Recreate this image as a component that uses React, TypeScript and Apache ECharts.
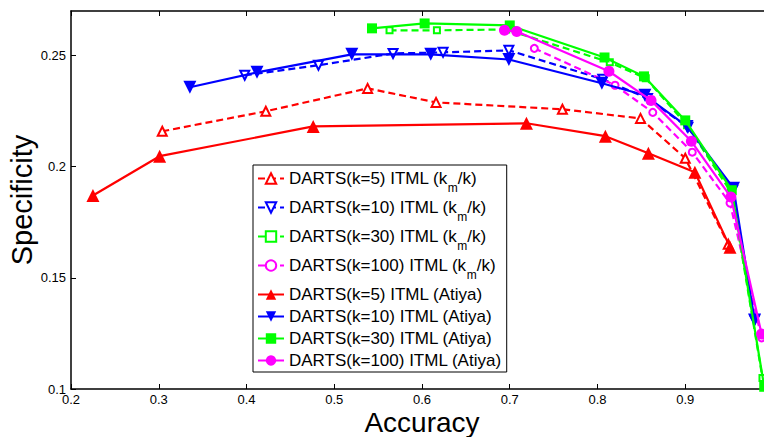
import React, { useEffect, useRef } from 'react';
import * as echarts from 'echarts';

const FONT = '"Liberation Sans", Arial, Helvetica, sans-serif';

const seriesNames = [
  'DARTS(k=5) ITML (k_m/k)',
  'DARTS(k=10) ITML (k_m/k)',
  'DARTS(k=30) ITML (k_m/k)',
  'DARTS(k=100) ITML (k_m/k)',
  'DARTS(k=5) ITML (Atiya)',
  'DARTS(k=10) ITML (Atiya)',
  'DARTS(k=30) ITML (Atiya)',
  'DARTS(k=100) ITML (Atiya)',
];

// [accuracy, specificity]
const k5Km = [[0.304, 0.2159], [0.422, 0.2249], [0.538, 0.2352], [0.616, 0.2289], [0.760, 0.2258], [0.849, 0.2217], [0.900, 0.2038], [0.949, 0.1651]];
const k10Km = [[0.398, 0.2411], [0.482, 0.2456], [0.567, 0.2509], [0.624, 0.2514], [0.699, 0.2523], [0.806, 0.2393], [0.857, 0.2307], [0.903, 0.2177], [0.954, 0.1894], [0.979, 0.131]];
const k30Km = [[0.563, 0.2613], [0.617, 0.2613], [0.696, 0.2617], [0.814, 0.2469], [0.855, 0.2397], [0.902, 0.2186], [0.953, 0.188], [0.988, 0.105]];
const k100Km = [[0.728, 0.2532], [0.820, 0.2366], [0.863, 0.2244], [0.908, 0.2065], [0.951, 0.1836], [0.987, 0.123]];
const k5Atiya = [[0.225, 0.187], [0.301, 0.2047], [0.476, 0.2181], [0.719, 0.2195], [0.809, 0.2137], [0.858, 0.206], [0.911, 0.1975], [0.951, 0.1638]];
const k10Atiya = [[0.3355, 0.2357], [0.412, 0.2424], [0.520, 0.2505], [0.610, 0.2505], [0.699, 0.2482], [0.805, 0.2375], [0.854, 0.2321], [0.902, 0.2181], [0.955, 0.1903], [0.979, 0.131]];
const k30Atiya = [[0.543, 0.2622], [0.603, 0.2644], [0.700, 0.2635], [0.808, 0.2491], [0.853, 0.2406], [0.900, 0.2208], [0.953, 0.1894], [0.99, 0.101]];
const k100Atiya = [[0.694, 0.2613], [0.708, 0.2608], [0.813, 0.2429], [0.861, 0.2298], [0.907, 0.2114], [0.952, 0.1863], [0.987, 0.1247]];

const seriesData = [k5Km, k10Km, k30Km, k100Km, k5Atiya, k10Atiya, k30Atiya, k100Atiya];
const colors = ['#ff0000', '#0000ff', '#00ff00', '#ff00ff', '#ff0000', '#0000ff', '#00ff00', '#ff00ff'];
const symbols = ['emptyTriangle', 'emptyTriangle', 'emptyRect', 'emptyCircle', 'triangle', 'triangle', 'rect', 'circle'];
const symbolSizes = [9, 9, 6, 7, 13, 13, 10, 11];
const rotations = [0, 180, 0, 0, 0, 180, 0, 0];
const dashed = [true, true, true, true, false, false, false, false];

export default function App() {
  const ref = useRef<HTMLDivElement>(null);
  useEffect(() => {
    if (!ref.current) return;
    const chart = echarts.init(ref.current, undefined, { renderer: 'svg' });
    const axisLine = { show: true, onZero: false, lineStyle: { color: '#000', width: 1.5 } };
    const axisTick = { show: true, inside: true, length: 5, lineStyle: { color: '#000', width: 1 } };
    chart.setOption({
      animation: false,
      backgroundColor: '#fff',
      grid: { left: 71, top: 11, width: 702, height: 378, containLabel: false, outerBoundsMode: 'none' },
      legend: {
        orient: 'vertical',
        left: 253,
        top: 165,
        backgroundColor: '#fff',
        borderColor: '#000',
        borderWidth: 1,
        borderRadius: 0,
        padding: [5, 5, 3, 4],
        itemGap: 5,
        itemWidth: 26,
        itemHeight: 13,
        data: seriesNames,
        formatter: (name: string) => {
          const m = name.match(/^(.*\(k)_m(\/k\))$/);
          if (m) return `{t|${m[1]}}{s|m}{t|${m[2]}}`;
          return `{t|${name}}`;
        },
        textStyle: {
          fontSize: 17,
          fontFamily: FONT,
          color: '#000',
          rich: {
            t: { fontSize: 17, fontFamily: FONT, color: '#000' },
            s: { fontSize: 12, fontFamily: FONT, color: '#000', padding: [19, 0, 0, 0] },
          },
        },
      },
      xAxis: [
        {
          type: 'value', min: 0.2, max: 1.0, interval: 0.1, position: 'bottom',
          axisLine, axisTick,
          splitLine: { show: false },
          axisLabel: {
            fontSize: 13, fontFamily: FONT, color: '#000', margin: 4, showMaxLabel: false,
            formatter: (v: number) => String(Math.round(v * 100) / 100),
          },
          name: 'Accuracy', nameLocation: 'middle', nameGap: 19, nameMoveOverlap: false,
          nameTextStyle: { fontSize: 28, fontFamily: FONT, color: '#000', verticalAlign: 'top' },
        },
        {
          type: 'value', min: 0.2, max: 1.0, interval: 0.1, position: 'top',
          axisLine, axisTick, splitLine: { show: false }, axisLabel: { show: false },
        },
      ],
      yAxis: [
        {
          type: 'value', min: 0.1, max: 0.27, interval: 0.05, position: 'left',
          axisLine, axisTick, splitLine: { show: false },
          axisLabel: {
            fontSize: 13, fontFamily: FONT, color: '#000', margin: 5, showMaxLabel: false,
            formatter: (v: number) => String(Math.round(v * 100) / 100),
          },
          name: 'Specificity', nameLocation: 'middle', nameGap: 35, nameMoveOverlap: false,
          nameTextStyle: { fontSize: 29, fontFamily: FONT, color: '#000' },
        },
        {
          type: 'value', min: 0.1, max: 0.27, interval: 0.05, position: 'right',
          axisLine, axisTick, splitLine: { show: false }, axisLabel: { show: false },
        },
      ],
      series: seriesNames.map((name, i) => ({
        name,
        type: 'line',
        data: seriesData[i],
        xAxisIndex: 0,
        yAxisIndex: 0,
        symbol: symbols[i],
        symbolSize: symbolSizes[i],
        symbolRotate: rotations[i],
        showAllSymbol: true,
        clip: true,
        lineStyle: { color: colors[i], width: 2.2, type: dashed[i] ? [7, 4] : 'solid' },
        itemStyle: { color: colors[i], borderWidth: dashed[i] ? 2 : 1 },
        emphasis: { disabled: true },
        z: 2 + i,
      })),
    });
    return () => chart.dispose();
  }, []);
  return (
    <div style={{ position: 'fixed', left: 0, top: 0, width: 764, height: 437, overflow: 'hidden', background: '#fff' }}>
      <div ref={ref} style={{ width: 790, height: 437 }} />
    </div>
  );
}
